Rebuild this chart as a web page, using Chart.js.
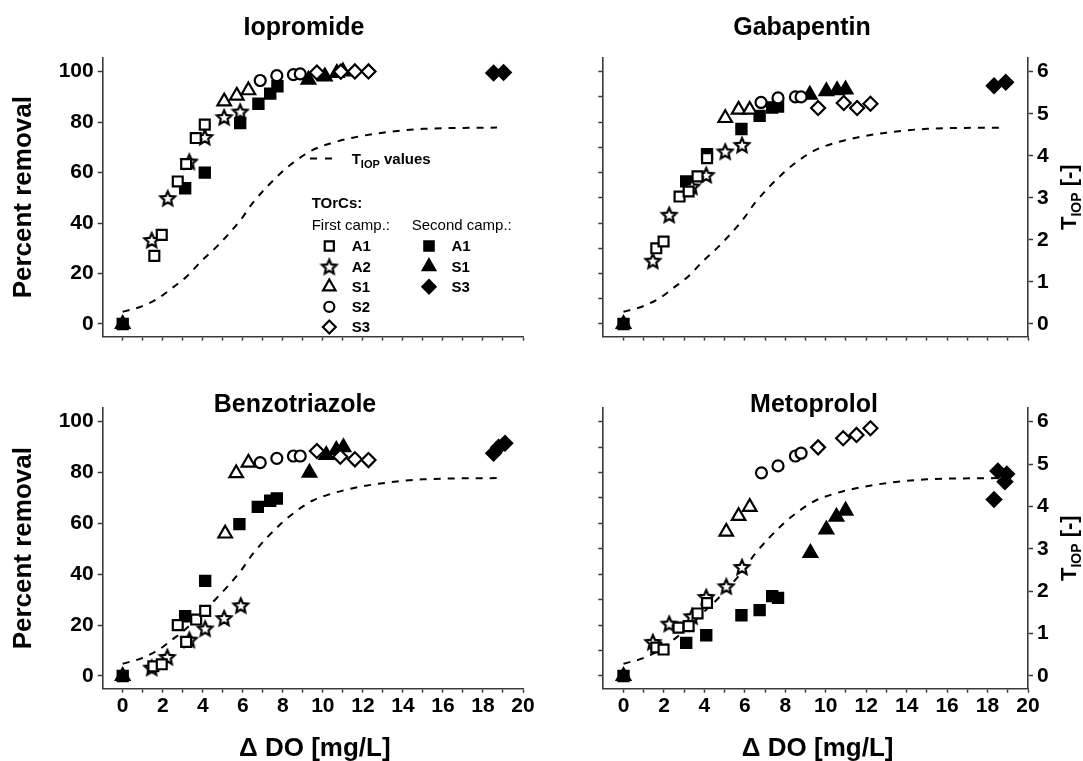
<!DOCTYPE html>
<html>
<head>
<meta charset="utf-8">
<title>TOrC removal vs ΔDO</title>
<script src="https://cdn.jsdelivr.net/npm/chart.js@4.4.0/dist/chart.umd.min.js"></script>
<style>
  html, body { margin: 0; padding: 0; background: #fff; }
  .wrap { position: relative; width: 1083px; height: 761px; overflow: hidden; }
  .wrap canvas { position: absolute; }
</style>
</head>
<body>
<div class="wrap">
  <canvas id="iop"></canvas>
  <canvas id="gbp"></canvas>
  <canvas id="btz"></canvas>
  <canvas id="mtp"></canvas>
</div>
<script>
const font = "'Liberation Sans', Arial, Helvetica, sans-serif";
const ink = '#000';
const axisColor = '#3a3a3a';

// labelled ticks
const doTicks = [0, 2, 4, 6, 8, 10, 12, 14, 16, 18, 20];
const pctTicks = [0, 20, 40, 60, 80, 100];
const tiopTicks = [0, 1, 2, 3, 4, 5, 6];

const compounds = ['Iopromide', 'Gabapentin', 'Benzotriazole', 'Metoprolol'];
const orcNames = ['A1', 'A2', 'S1', 'S2', 'S3', 'A1', 'S1', 'S3'];

// T_IOP curve (right axis)
const tiopDO  = [0, 0.9, 1.8, 2.45, 3.2, 3.9, 4.7, 5.9, 6.5, 7.9, 8.7, 9.5, 10.5, 11.5, 13, 15, 18.7];
const tiopVal = [0.29, 0.41, 0.62, 0.85, 1.13, 1.48, 1.84, 2.48, 2.88, 3.59, 3.9, 4.14, 4.31, 4.43, 4.55, 4.64, 4.67];

// [ΔDO mg/L, % removal]; _1 = first campaign, _2 = second campaign
const iopA1_1 = [[1.58, 27], [1.95, 35.3], [2.75, 56.5], [3.17, 63.4], [3.65, 73.7], [4.1, 79]];
const iopA2_1 = [[1.45, 33.3], [2.25, 49.9], [3.33, 64.4], [4.1, 74.1], [5.07, 82], [5.87, 84.2]];
const iopS1_1 = [[5.07, 88.2], [5.7, 90.5], [6.28, 92.6]];
const iopS2_1 = [[6.87, 96.5], [7.7, 98.4], [8.53, 98.8], [8.87, 99.1]];
const iopS3_1 = [[9.7, 99.7], [10.9, 100], [11.6, 100.1], [12.28, 100.1]];
const iopA1_2 = [[0, 0], [3.12, 53.8], [4.1, 60], [5.87, 79.6], [6.78, 87.3], [7.37, 91.3], [7.73, 94.2]];
const iopS1_2 = [[0, 0], [9.28, 96.8], [10.1, 98.1], [10.7, 99.5], [11.0, 100.1]];
const iopS3_2 = [[18.53, 99.5], [19.03, 99.7]];

const gabA1_1 = [[1.62, 30], [1.98, 32.7], [2.77, 50.5], [3.22, 52.5], [3.66, 58.5], [4.13, 65.7]];
const gabA2_1 = [[1.45, 25.1], [2.26, 43.3], [3.38, 54.5], [4.09, 59.1], [5.03, 68.4], [5.86, 71]];
const gabS1_1 = [[5.03, 81.6], [5.69, 84.9], [6.24, 84.9]];
const gabS2_1 = [[6.8, 87.8], [7.64, 89.6], [8.5, 90], [8.78, 90]];
const gabS3_1 = [[9.62, 85.6], [10.89, 87.6], [11.55, 85.6], [12.21, 87.3]];
const gabA1_2 = [[0, 0], [3.1, 56.5], [4.13, 67.3], [5.83, 77.3], [6.73, 82.5], [7.35, 85.8], [7.64, 86.2]];
const gabS1_2 = [[0, 0], [9.21, 90.9], [10.03, 92.2], [10.56, 92.6], [10.98, 92.9]];
const gabS3_2 = [[18.32, 94.4], [18.9, 95.8]];

const btzA1_1 = [[1.53, 3.8], [1.95, 4.6], [2.75, 20], [3.17, 13.4], [3.67, 22.2], [4.12, 25.6]];
const btzA2_1 = [[1.45, 3.3], [2.23, 7.5], [3.33, 14.3], [4.12, 18.7], [5.07, 22.8], [5.9, 27.8]];
const btzS1_1 = [[5.12, 56], [5.67, 79.7], [6.28, 83.9]];
const btzS2_1 = [[6.87, 83.9], [7.7, 85.6], [8.53, 86.5], [8.87, 86.5]];
const btzS3_1 = [[9.7, 88.5], [10.87, 86.2], [11.6, 85.2], [12.28, 84.9]];
const btzA1_2 = [[0, 0], [3.12, 23.5], [4.12, 37.4], [5.83, 59.7], [6.75, 66.5], [7.37, 68.9], [7.7, 69.8]];
const btzS1_2 = [[0, 0], [9.33, 79.9], [10.17, 86.9], [10.67, 88.9], [11.03, 89.9]];
const btzS3_2 = [[18.53, 87.6], [18.78, 89.9], [19.1, 91.5]];

const mtpA1_1 = [[1.62, 11.2], [1.98, 10.4], [2.72, 19], [3.22, 19.6], [3.66, 24.6], [4.13, 28.7]];
const mtpA2_1 = [[1.45, 13.4], [2.26, 20.6], [3.39, 23.5], [4.09, 31.1], [5.08, 35.3], [5.86, 42.9]];
const mtpS1_1 = [[5.08, 56.7], [5.69, 62.9], [6.24, 66.5]];
const mtpS2_1 = [[6.82, 79.9], [7.64, 82.6], [8.5, 86.5], [8.78, 87.6]];
const mtpS3_1 = [[9.62, 89.9], [10.86, 93.5], [11.52, 94.8], [12.21, 97.4]];
const mtpA1_2 = [[0, 0], [3.1, 13], [4.09, 16], [5.83, 23.9], [6.73, 25.9], [7.35, 31.4], [7.64, 30.7]];
const mtpS1_2 = [[0, 0], [9.24, 48.4], [10.03, 57.6], [10.53, 62.6], [10.98, 65]];
const mtpS3_2 = [[18.51, 80.6], [18.95, 79.4], [18.86, 76.4], [18.32, 69.4]];

const markerLine = 2.2;

// five-pointed open star, used as a point style
function makeStar(r, lw) {
  const c = document.createElement('canvas');
  const s = Math.ceil(2 * r + lw + 2);
  c.width = c.height = s;
  const g = c.getContext('2d');
  g.translate(s / 2, s / 2 + 0.8);
  g.beginPath();
  for (let i = 0; i < 10; i++) {
    const rr = i % 2 ? r * 0.47 : r;
    const a = -Math.PI / 2 + i * Math.PI / 5;
    g.lineTo(rr * Math.cos(a), rr * Math.sin(a));
  }
  g.closePath();
  g.fillStyle = '#fff';
  g.fill();
  g.lineWidth = lw;
  g.strokeStyle = ink;
  g.stroke();
  return c;
}

const star = makeStar(7.6, markerLine);
const markers = [
  { style: 'rect', r: 7, fill: '#fff' },
  { style: star, r: 7.6, fill: '#fff' },
  { style: 'triangle', r: 7.8, fill: '#fff' },
  { style: 'circle', r: 5.5, fill: '#fff' },
  { style: 'rectRot', r: 7, fill: '#fff' },
  { style: 'rect', r: 7.2, fill: ink },
  { style: 'triangle', r: 7.8, fill: ink },
  { style: 'rectRot', r: 7.2, fill: ink },
];

const panels = [
  { id: 'iop', name: compounds[0], series: [iopA1_1, iopA2_1, iopS1_1, iopS2_1, iopS3_1, iopA1_2, iopS1_2, iopS3_2],
    left: 0, top: 0, w: 560, h: 375, l: 102.7, t: 57.8, r: 523, b: 336.6, col: 0, row: 0, titleX: 304, titleY: 35 },
  { id: 'gbp', name: compounds[1], series: [gabA1_1, gabA2_1, gabS1_1, gabS2_1, gabS3_1, gabA1_2, gabS1_2, gabS3_2],
    left: 560, top: 0, w: 523, h: 375, l: 603.3, t: 57.8, r: 1028, b: 336.6, col: 1, row: 0, titleX: 802, titleY: 35 },
  { id: 'btz', name: compounds[2], series: [btzA1_1, btzA2_1, btzS1_1, btzS2_1, btzS3_1, btzA1_2, btzS1_2, btzS3_2],
    left: 0, top: 375, w: 560, h: 386, l: 102.7, t: 407.7, r: 523, b: 688.7, col: 0, row: 1, titleX: 295, titleY: 412 },
  { id: 'mtp', name: compounds[3], series: [mtpA1_1, mtpA2_1, mtpS1_1, mtpS2_1, mtpS3_1, mtpA1_2, mtpS1_2, mtpS3_2],
    left: 560, top: 375, w: 523, h: 386, l: 603.3, t: 407.7, r: 1028, b: 688.7, col: 1, row: 1, titleX: 814, titleY: 412 },
];

// T with an IOP subscript, followed by a suffix, centred on (0,0)
function drawTiop(ctx, size, subSize, suffix) {
  const big = `bold ${size}px ${font}`;
  const small = `bold ${subSize}px ${font}`;
  ctx.font = big;
  const wT = ctx.measureText('T').width;
  const wR = ctx.measureText(suffix).width;
  ctx.font = small;
  const wS = ctx.measureText('IOP').width;
  let x = -(wT + wS + wR) / 2;
  const base = size * 0.36;
  ctx.textAlign = 'left';
  ctx.textBaseline = 'alphabetic';
  ctx.font = big;
  ctx.fillText('T', x, base);
  x += wT;
  ctx.font = small;
  ctx.fillText('IOP', x, base + size * 0.22);
  x += wS;
  ctx.font = big;
  ctx.fillText(suffix, x, base);
}

function textPlugin(p) {
  return {
    id: 'panelText',
    afterDraw(chart) {
      const ctx = chart.ctx;
      const ox = p.left, oy = p.top;
      ctx.save();
      ctx.fillStyle = ink;
      ctx.font = `bold 25px ${font}`;
      ctx.textAlign = 'center';
      ctx.textBaseline = 'alphabetic';
      ctx.fillText(p.name, p.titleX - ox, p.titleY - oy);

      const midY = (p.t + p.b) / 2 - oy;
      if (p.col === 0) {
        ctx.save();
        ctx.translate(24, midY);
        ctx.rotate(-Math.PI / 2);
        ctx.font = `bold 26px ${font}`;
        ctx.textAlign = 'center';
        ctx.textBaseline = 'middle';
        ctx.fillText('Percent removal', 0, 0);
        ctx.restore();
      } else {
        ctx.save();
        ctx.translate(1068 - ox, midY);
        ctx.rotate(-Math.PI / 2);
        drawTiop(ctx, 22, 14, ' [-]');
        ctx.restore();
      }
      if (p.row === 1) {
        ctx.font = `bold 26px ${font}`;
        ctx.textAlign = 'center';
        ctx.fillText('\u0394 DO [mg/L]', (p.l + p.r) / 2 - ox + 2, 756 - oy);
      }
      if (p.col === 0 && p.row === 0) drawLegend(ctx);
      ctx.restore();
    }
  };
}

function drawLegend(ctx) {
  // curve key
  ctx.save();
  ctx.strokeStyle = ink;
  ctx.lineWidth = 2;
  ctx.setLineDash([7, 8]);
  ctx.beginPath();
  ctx.moveTo(310, 158.5);
  ctx.lineTo(340, 158.5);
  ctx.stroke();
  ctx.restore();
  ctx.save();
  ctx.translate(351.7, 159);
  ctx.font = `bold 15px ${font}`;
  const wT = ctx.measureText('T').width;
  ctx.textAlign = 'left';
  ctx.textBaseline = 'alphabetic';
  ctx.fillText('T', 0, 5.4);
  ctx.font = `bold 11px ${font}`;
  ctx.fillText('IOP', wT, 9);
  const wS = ctx.measureText('IOP').width;
  ctx.font = `bold 15px ${font}`;
  ctx.fillText(' values', wT + wS, 5.4);
  ctx.restore();

  ctx.textAlign = 'left';
  ctx.textBaseline = 'middle';
  ctx.font = `bold 15px ${font}`;
  ctx.fillText('TOrCs:', 311.7, 204);
  ctx.font = `15px ${font}`;
  ctx.fillText('First camp.:', 311.7, 226);
  ctx.fillText('Second camp.:', 411.7, 226);

  const rowY = [246, 266.5, 286.7, 306.8, 327];
  orcNames.forEach((n, i) => {
    const first = i < 5;
    const x = first ? 329.3 : 429;
    const y = rowY[first ? i : i - 5];
    const m = markers[i];
    ctx.save();
    ctx.fillStyle = m.fill;
    ctx.strokeStyle = ink;
    ctx.lineWidth = markerLine;
    Chart.helpers.drawPoint(ctx, { pointStyle: m.style, radius: m.r * 0.92, borderWidth: markerLine, rotation: 0 }, x, y);
    ctx.restore();
    ctx.fillStyle = ink;
    ctx.font = `bold 15px ${font}`;
    ctx.fillText(n, x + 22.4, y + 1);
  });
}

function tickColor(keep) {
  return ctx => (ctx.tick && keep(ctx.tick.value)) ? axisColor : 'rgba(0,0,0,0)';
}

panels.forEach(p => {
  const canvas = document.getElementById(p.id);
  canvas.width = p.w;
  canvas.height = p.h;
  canvas.style.left = p.left + 'px';
  canvas.style.top = p.top + 'px';

  const datasets = p.series.map((pts, i) => ({
    label: (i < 5 ? 'First camp. ' : 'Second camp. ') + orcNames[i],
    data: pts.map(([x, y]) => ({ x, y })),
    yAxisID: 'y',
    pointStyle: markers[i].style,
    pointRadius: markers[i].r,
    pointHoverRadius: markers[i].r,
    pointBackgroundColor: markers[i].fill,
    pointHoverBackgroundColor: markers[i].fill,
    pointBorderColor: ink,
    pointHoverBorderColor: ink,
    pointBorderWidth: markerLine,
    pointHoverBorderWidth: markerLine,
    order: 1
  }));
  datasets.push({
    label: 'T_IOP values',
    data: tiopDO.map((x, i) => ({ x, y: tiopVal[i] })),
    yAxisID: 'y2',
    showLine: true,
    borderColor: ink,
    borderWidth: 2,
    borderDash: [7, 7],
    pointRadius: 0,
    pointHoverRadius: 0,
    cubicInterpolationMode: 'monotone',
    order: 2
  });

  const tickFont = { family: font, size: 21, weight: 'bold' };
  const border = { display: true, color: axisColor, width: 1.6 };

  new Chart(canvas, {
    type: 'scatter',
    data: { datasets },
    options: {
      responsive: false,
      animation: false,
      events: [],
      layout: { autoPadding: false, padding: { top: p.t - p.top, left: 0, right: p.col === 0 ? p.left + p.w - p.r : 0, bottom: 0 } },
      plugins: { legend: { display: false }, tooltip: { enabled: false }, title: { display: false } },
      scales: {
        x: {
          type: 'linear', min: -1, max: 20,
          afterFit: s => { s.height = p.top + p.h - p.b; },
          border,
          grid: { drawOnChartArea: false, drawTicks: true, tickLength: 4, tickWidth: 1.5, tickColor: tickColor(v => v >= 0) },
          ticks: {
            display: p.row === 1, stepSize: 1, autoSkip: false, maxRotation: 0, includeBounds: false,
            maxTicksLimit: 100, padding: 1, color: ink, font: tickFont,
            callback: v => doTicks.includes(v) ? String(v) : ''
          }
        },
        y: {
          type: 'linear', position: 'left', min: -5, max: 105.5,
          afterFit: s => { s.width = p.l - p.left; },
          border,
          grid: { drawOnChartArea: false, drawTicks: true, tickLength: 5, tickWidth: 1.5, tickColor: tickColor(v => v % 10 === 0) },
          ticks: {
            display: p.col === 0, stepSize: 10, includeBounds: false, maxTicksLimit: 100,
            padding: 4, color: ink, font: tickFont,
            callback: v => pctTicks.includes(v) ? String(v) : ''
          }
        },
        y2: {
          type: 'linear', position: 'right', display: p.col === 1, min: -0.3, max: 6.33,
          afterFit: s => { s.width = p.col === 1 ? p.left + p.w - p.r : 0; },
          border,
          grid: { drawOnChartArea: false, drawTicks: true, tickLength: 5, tickWidth: 1.5, tickColor: tickColor(v => v >= 0) },
          ticks: {
            stepSize: 0.5, includeBounds: false, maxTicksLimit: 100,
            padding: 4, color: ink, font: tickFont,
            callback: v => tiopTicks.includes(v) ? String(v) : ''
          }
        }
      }
    },
    plugins: [textPlugin(p)]
  });
});
</script>
</body>
</html>
